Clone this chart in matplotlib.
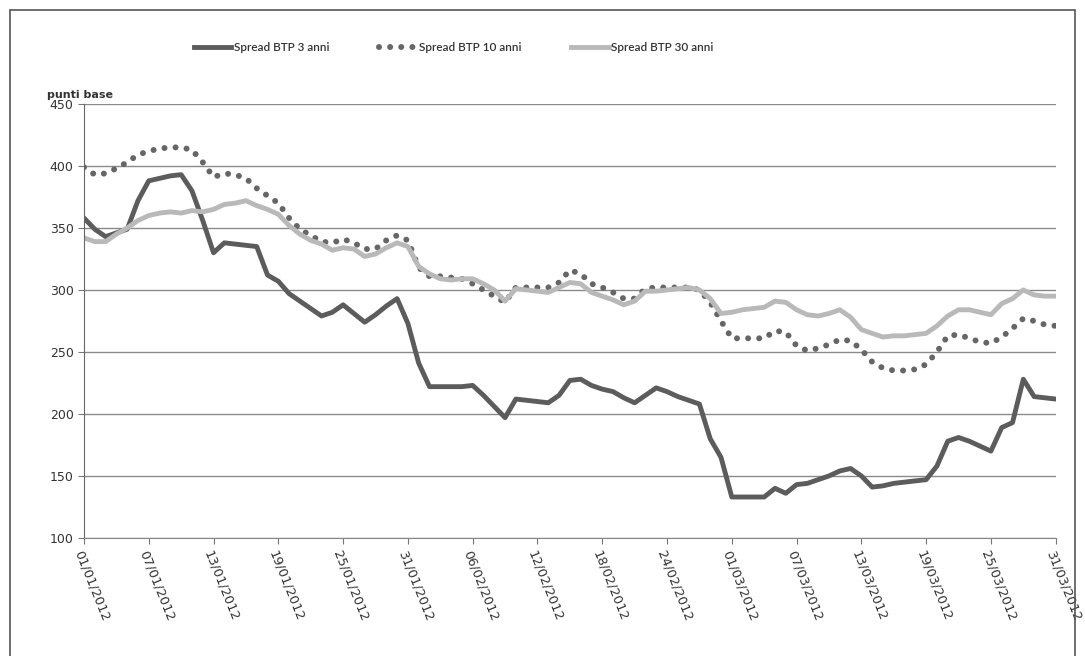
import pandas as pd
import matplotlib
matplotlib.use("Agg")
import matplotlib.pyplot as plt
import matplotlib.dates as mdates
from matplotlib.patches import Rectangle

plt.rcParams['font.family'] = ['DejaVu Sans']

# daily dates, 01/01/2012 .. 31/03/2012
dates = pd.date_range('2012-01-01', '2012-03-31', freq='D')

spread_3 = [358, 349, 343, 346, 349, 372, 388, 390, 392, 393,
            380, 356, 330, 338, 337, 336, 335, 312, 307, 297,
            291, 285, 279, 282, 288, 281, 274, 280, 287, 293,
            273, 241, 222, 222, 222, 222, 223, 215, 206, 197,
            212, 211, 210, 209, 215, 227, 228, 223, 220, 218,
            213, 209, 215, 221, 218, 214, 211, 208, 180, 165,
            133, 133, 133, 133, 140, 136, 143, 144, 147, 150,
            154, 156, 150, 141, 142, 144, 145, 146, 147, 158,
            178, 181, 178, 174, 170, 189, 193, 228, 214, 213,
            212]

spread_10 = [399, 393, 394, 398, 403, 409, 412, 414, 415, 415,
             413, 403, 391, 394, 393, 390, 382, 376, 370, 358,
             349, 344, 339, 338, 341, 338, 333, 333, 340, 344,
             340, 318, 311, 311, 310, 309, 305, 300, 295, 290,
             302, 302, 302, 302, 306, 316, 313, 305, 302, 298,
             293, 293, 301, 302, 302, 302, 302, 300, 290, 275,
             261, 261, 261, 261, 267, 266, 255, 251, 253, 256,
             260, 259, 252, 242, 237, 235, 235, 236, 240, 250,
             263, 264, 261, 258, 257, 262, 269, 277, 275, 272,
             271]

spread_30 = [342, 339, 339, 345, 350, 356, 360, 362, 363, 362,
             364, 363, 365, 369, 370, 372, 368, 365, 361, 352,
             345, 340, 337, 332, 334, 333, 327, 329, 334, 338,
             335, 319, 313, 309, 308, 309, 309, 305, 300, 291,
             301, 300, 299, 298, 302, 306, 305, 298, 295, 292,
             288, 291, 299, 299, 300, 301, 302, 300, 293, 281,
             282, 284, 285, 286, 291, 290, 284, 280, 279, 281,
             284, 278, 268, 265, 262, 263, 263, 264, 265, 271,
             279, 284, 284, 282, 280, 289, 293, 300, 296, 295,
             295]

fig = plt.figure(figsize=(10.85, 6.56), dpi=100)
ax = fig.add_axes([0.0774, 0.180, 0.8956, 0.6615])

# outer frame of the chart
fig.patches.append(Rectangle((0.009, -0.01), 0.982, 0.995, transform=fig.transFigure,
                             fill=False, ec='#555555', lw=1.2))

l3, = ax.plot(dates, spread_3, color='#5c5c5c', lw=3.5)
l10, = ax.plot(dates, spread_10, color='#666666', lw=4.3,
               linestyle=(0, (0.01, 1.85)), dash_capstyle='round')
l30, = ax.plot(dates, spread_30, color='#b9b9b9', lw=3.5)

ax.set_ylim(100, 450)
ax.set_yticks(range(100, 451, 50))
ax.set_xlim(dates[0], dates[-1])
ax.set_xticks(dates[::6])
ax.xaxis.set_major_formatter(mdates.DateFormatter('%d/%m/%Y'))
plt.setp(ax.get_xticklabels(), rotation=-68, ha='left', va='top',
         rotation_mode='anchor', fontsize=9.3, color='#333333')
ax.tick_params(axis='x', length=4, color='#777777', pad=4)
ax.tick_params(axis='y', length=4, color='#777777', labelsize=9, labelcolor='#333333')

ax.grid(axis='y', color='#8a8a8a', lw=1)
ax.set_axisbelow(True)
for s in ['top', 'right']:
    ax.spines[s].set_visible(False)
ax.spines['left'].set_color('#666666')
ax.spines['bottom'].set_color('#888888')

ax.text(-0.038, 1.01, 'punti base', transform=ax.transAxes, fontsize=8,
        fontweight='bold', color='#333333', ha='left', va='bottom')

fig.legend([l3, l10, l30], ['Spread BTP 3 anni', 'Spread BTP 10 anni', 'Spread BTP 30 anni'],
           loc='center', bbox_to_anchor=(0.418, 0.928), ncol=3, frameon=False,
           prop={'family': 'Lato', 'size': 8.5, 'weight': 'semibold'}, handlelength=3.2,
           handletextpad=0.2, columnspacing=4.2, labelcolor='#333333')

fig.savefig('out.png', dpi=100)
